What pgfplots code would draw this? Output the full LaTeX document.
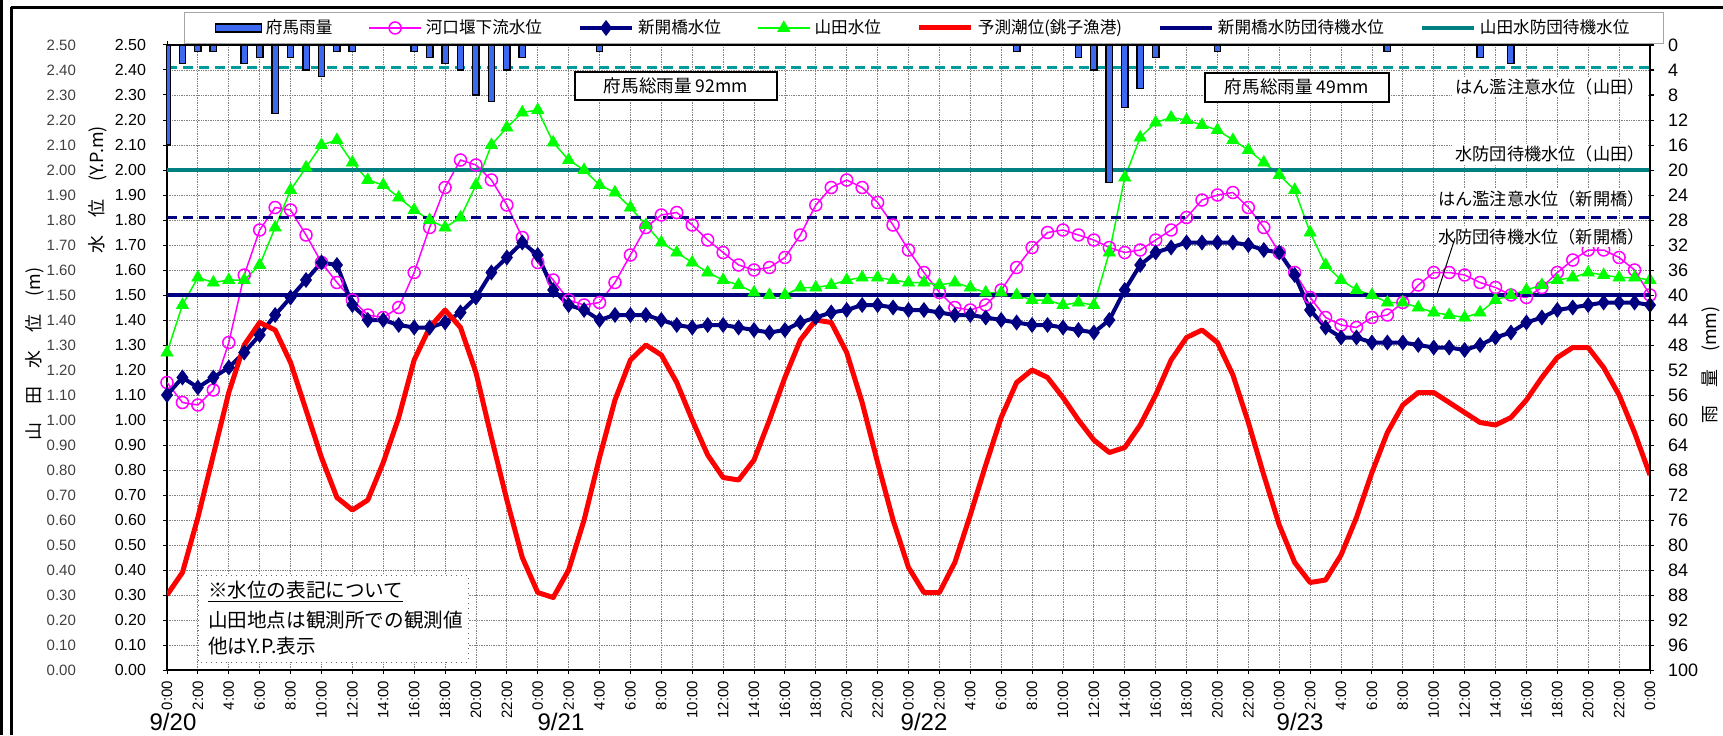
\documentclass[border=0pt]{standalone}
\usepackage{fontspec}
\setmainfont{Liberation Sans}
\newfontfamily\jp{Noto Sans CJK JP}
\usepackage{pgfplots}
\usepackage{pgfplotstable}
\pgfplotsset{compat=1.18}

\definecolor{barblue}{RGB}{60,105,240}
\definecolor{kako}{RGB}{255,0,255}
\definecolor{shin}{RGB}{0,0,128}
\definecolor{yama}{RGB}{0,255,0}
\definecolor{tide}{RGB}{255,0,0}
\definecolor{tealsolid}{RGB}{0,128,128}
\definecolor{tealdash}{RGB}{0,155,155}

\newcommand\fs[1]{\fontsize{#1}{#1}\selectfont}

% hourly water levels, h = hours from 9/20 0:00
\pgfplotstableread{
h kako shin yamada tide
0 1.15 1.10 1.27 0.30
1 1.07 1.17 1.46 0.39
2 1.06 1.13 1.57 0.61
3 1.12 1.17 1.55 0.86
4 1.31 1.21 1.56 1.11
5 1.58 1.27 1.56 1.30
6 1.76 1.34 1.62 1.39
7 1.85 1.42 1.77 1.36
8 1.84 1.49 1.92 1.23
9 1.74 1.56 2.01 1.04
10 1.63 1.63 2.10 0.85
11 1.55 1.62 2.12 0.69
12 1.48 1.46 2.03 0.64
13 1.42 1.40 1.96 0.68
14 1.41 1.40 1.94 0.83
15 1.45 1.38 1.89 1.01
16 1.59 1.37 1.84 1.24
17 1.77 1.37 1.80 1.37
18 1.93 1.39 1.77 1.44
19 2.04 1.43 1.81 1.37
20 2.02 1.49 1.94 1.19
21 1.96 1.59 2.10 0.93
22 1.86 1.65 2.17 0.68
23 1.73 1.71 2.23 0.45
24 1.63 1.66 2.24 0.31
25 1.56 1.52 2.11 0.29
26 1.48 1.46 2.04 0.40
27 1.46 1.44 2.00 0.60
28 1.47 1.40 1.94 0.85
29 1.55 1.42 1.91 1.08
30 1.66 1.42 1.85 1.24
31 1.77 1.42 1.78 1.30
32 1.82 1.40 1.71 1.26
33 1.83 1.38 1.67 1.15
34 1.78 1.37 1.63 1.00
35 1.72 1.38 1.59 0.86
36 1.67 1.38 1.56 0.77
37 1.62 1.37 1.54 0.76
38 1.60 1.36 1.51 0.84
39 1.61 1.35 1.50 1.00
40 1.65 1.36 1.50 1.17
41 1.74 1.39 1.53 1.32
42 1.86 1.41 1.53 1.40
43 1.93 1.43 1.54 1.39
44 1.96 1.44 1.56 1.27
45 1.93 1.46 1.57 1.07
46 1.87 1.46 1.57 0.83
47 1.78 1.45 1.56 0.60
48 1.68 1.44 1.55 0.41
49 1.59 1.44 1.55 0.31
50 1.51 1.43 1.54 0.31
51 1.45 1.42 1.55 0.43
52 1.44 1.42 1.53 0.62
53 1.46 1.41 1.51 0.82
54 1.52 1.40 1.51 1.01
55 1.61 1.39 1.50 1.15
56 1.69 1.38 1.48 1.20
57 1.75 1.38 1.48 1.17
58 1.76 1.37 1.46 1.09
59 1.74 1.36 1.47 1.00
60 1.72 1.35 1.46 0.92
61 1.69 1.40 1.67 0.87
62 1.67 1.52 1.97 0.89
63 1.68 1.62 2.13 0.98
64 1.72 1.67 2.19 1.10
65 1.76 1.69 2.21 1.24
66 1.81 1.71 2.20 1.33
67 1.88 1.71 2.18 1.36
68 1.90 1.71 2.16 1.31
69 1.91 1.71 2.12 1.18
70 1.85 1.70 2.08 0.99
71 1.77 1.68 2.03 0.78
72 1.67 1.67 1.98 0.58
73 1.59 1.58 1.92 0.43
74 1.49 1.44 1.75 0.35
75 1.41 1.37 1.62 0.36
76 1.38 1.33 1.56 0.46
77 1.37 1.33 1.52 0.61
78 1.41 1.31 1.50 0.79
79 1.42 1.31 1.47 0.95
80 1.47 1.31 1.47 1.06
81 1.54 1.30 1.45 1.11
82 1.59 1.29 1.43 1.11
83 1.59 1.29 1.42 1.07
84 1.58 1.28 1.41 1.03
85 1.55 1.30 1.43 0.99
86 1.53 1.33 1.48 0.98
87 1.50 1.35 1.50 1.01
88 1.49 1.39 1.52 1.08
89 1.53 1.41 1.54 1.17
90 1.59 1.44 1.56 1.25
91 1.64 1.45 1.57 1.29
92 1.68 1.46 1.59 1.29
93 1.68 1.47 1.58 1.21
94 1.65 1.47 1.57 1.10
95 1.60 1.47 1.57 0.95
96 1.50 1.46 1.56 0.78
}\levels

% hourly rain at Fuma (mm)
\pgfplotstableread{
h rain
0 16
1 3
2 1
3 1
5 3
6 2
7 11
8 2
9 4
10 5
11 1
12 1
16 1
17 2
18 3
19 4
20 8
21 9
22 4
23 2
28 1
55 1
59 2
60 4
61 22
62 10
63 7
64 2
68 1
79 1
85 2
87 3
}\rain

\pgfplotsset{
  chartbox/.style={at={(83.5pt,32.5pt)}, anchor=south west, scale only axis,
    width=741.5pt, height=312.5pt, xmin=0, xmax=96,
    /pgf/number format/assume math mode=true},
  levelticks/.style={ymin=0, ymax=2.5,
    ytick={0,0.1,0.2,0.3,0.4,0.5,0.6,0.7,0.8,0.9,1.0,1.1,1.2,1.3,1.4,1.5,1.6,1.7,1.8,1.9,2.0,2.1,2.2,2.3,2.4,2.5},
    yticklabel style={/pgf/number format/fixed, /pgf/number format/fixed zerofill,
      /pgf/number format/precision=2}},
}

\begin{document}
\begin{tikzpicture}[x=0.5pt, y=0.5pt]
\path[use as bounding box] (0,0) rectangle (1723,735);

% outer frame of the sheet
\draw[line width=1.5pt] (1.5,0) -- (1.5,735);
\draw[line width=1.5pt] (11.5,0) -- (11.5,728);
\draw[line width=1.5pt] (10.5,727.5) -- (1723,727.5);

% outer column of left tick labels (Yamada gauge)
\begin{axis}[chartbox, levelticks, hide x axis, axis y line*=left,
  y axis line style={draw=none}, major tick length=0pt,
  yticklabel style={xshift=-42pt, font=\fs{7.5}, text=black!75}]
\addplot[draw=none] coordinates {(0,0)};
\end{axis}

% main axis: water levels
\begin{axis}[chartbox, levelticks,
  axis line style={line width=0.75pt},
  tick style={black, line width=0.5pt}, tick align=outside, major tick length=2pt,
  xtick={0,2,...,96},
  xticklabels={0:00,2:00,4:00,6:00,8:00,10:00,12:00,14:00,16:00,18:00,20:00,22:00,
               0:00,2:00,4:00,6:00,8:00,10:00,12:00,14:00,16:00,18:00,20:00,22:00,
               0:00,2:00,4:00,6:00,8:00,10:00,12:00,14:00,16:00,18:00,20:00,22:00,
               0:00,2:00,4:00,6:00,8:00,10:00,12:00,14:00,16:00,18:00,20:00,22:00,0:00},
  xticklabel style={rotate=90, anchor=east, font=\fs{7.5}},
  yticklabel style={font=\fs{8}, xshift=-5pt},
  grid=major, grid style={line width=0.4pt, black!50, dash pattern=on 0.7pt off 0.5pt},
  legend columns=7, legend cell align=left,
  legend style={at={(0.0115,1.0528)}, anchor=north west, draw=black!35,
    line width=0.5pt, font=\jp\fs{8.3}, inner ysep=1.5pt, inner xsep=15pt,
    /tikz/every even column/.append style={column sep=16pt}},
  legend image code/.code={\draw[mark repeat=2, mark phase=2, #1]
    plot coordinates {(0pt,0pt) (13pt,0pt) (26pt,0pt)};},
]
\addlegendimage{legend image code/.code={\draw[fill=barblue, draw=black, line width=0.7pt]
  (0pt,-2pt) rectangle (23pt,2pt);}}
\addlegendentry{府馬雨量}

\addplot[kako, line width=0.75pt, mark=o, mark size=3pt,
  mark options={fill=white, line width=0.75pt}] table[x=h, y=kako] {\levels};
\addlegendentry{河口堰下流水位}

\addplot[shin, line width=2pt, mark=diamond*, mark size=3.6pt,
  mark options={line width=0.5pt}] table[x=h, y=shin] {\levels};
\addlegendentry{新開橋水位}

\addplot[yama, line width=0.75pt, mark=triangle*, mark size=3.5pt,
  mark options={line width=0.3pt}] table[x=h, y=yamada] {\levels};
\addlegendentry{山田水位}

\addplot[tide, line width=2.5pt, line join=round] table[x=h, y=tide] {\levels};
\addlegendentry{予測潮位(銚子漁港)}

\addplot[shin, line width=2pt] coordinates {(0,1.50) (96,1.50)};
\addlegendentry{新開橋水防団待機水位}

\addplot[tealsolid, line width=2pt] coordinates {(0,2.00) (96,2.00)};
\addlegendentry{山田水防団待機水位}

\addplot[forget plot, shin, line width=1.5pt, dash pattern=on 5pt off 3pt]
  coordinates {(0,1.81) (96,1.81)};
\addplot[forget plot, tealdash, line width=1.5pt, dash pattern=on 5pt off 3pt]
  coordinates {(0,2.41) (96,2.41)};
\end{axis}

% rain on the right axis, reversed
\begin{axis}[chartbox, hide x axis, axis y line*=right,
  y axis line style={line width=0.75pt},
  y dir=reverse, ymin=0, ymax=100, ytick={0,4,...,100},
  tick style={black, line width=0.5pt}, tick align=outside, major tick length=2pt,
  yticklabel style={font=\fs{9}, xshift=3.5pt}]
\addplot[ybar, bar width=3.2pt, bar shift=0pt, fill=barblue, draw=black,
  line width=0.7pt] table[x=h, y=rain] {\rain};
\end{axis}

% axis titles
\node[rotate=90, font=\jp\fs{9}] at (35,381) {山　田　水　位　(m)};
\node[rotate=90, font=\jp\fs{9}] at (98,545) {水　位　(Y.P.m)};
\node[rotate=90, font=\jp\fs{9}] at (1711,370) {雨　量　(mm)};

% dates
\node[font=\fs{12}] at (173,13) {9/20};
\node[font=\fs{12}] at (561,13) {9/21};
\node[font=\fs{12}] at (924,13) {9/22};
\node[font=\fs{12}] at (1300,13) {9/23};

% totals
\draw[line width=0.75pt, fill=white] (575,663) rectangle (777,635);
\node[font=\jp\fs{8.8}] at (676,649) {府馬総雨量 92mm};
\draw[line width=0.75pt, fill=white] (1205,662) rectangle (1389,633);
\node[font=\jp\fs{8.8}] at (1297,648) {府馬総雨量 49mm};

% reference level labels
\node[anchor=east, fill=white, inner sep=1pt, font=\jp\fs{8.6}] at (1647,648) {はん濫注意水位（山田）};
\node[anchor=east, fill=white, inner sep=1pt, font=\jp\fs{8.6}] at (1647,581) {水防団待機水位（山田）};
\node[anchor=east, fill=white, inner sep=1pt, font=\jp\fs{8.6}] at (1647,536) {はん濫注意水位（新開橋）};
\node[anchor=east, fill=white, inner sep=1pt, font=\jp\fs{8.6}] at (1647,498) {水防団待機水位（新開橋）};
\draw[line width=0.5pt] (1455,497) -- (1437,441);

% note box
\draw[black!60, line width=0.5pt, dotted, fill=white] (198,160) rectangle (468,73);
\node[anchor=west, font=\jp\fs{9.8}] at (201,143) {\underline{※水位の表記について}};
\node[anchor=west, font=\jp\fs{9.8}] at (201,115) {山田地点は観測所での観測値};
\node[anchor=west, font=\jp\fs{9.8}] at (201,89) {他はY.P.表示};
\end{tikzpicture}
\end{document}
